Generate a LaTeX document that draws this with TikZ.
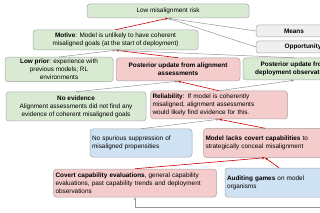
\documentclass[tikz,border=0pt]{standalone}
\usepackage{fontspec}
\setmainfont{Liberation Sans}
\usepackage{xcolor}
\usetikzlibrary{arrows.meta}
\definecolor{boxgreen}{HTML}{D9EAD3}
\definecolor{boxred}{HTML}{F4CCCC}
\definecolor{boxblue}{HTML}{CFE2F3}
\definecolor{boxgray}{HTML}{EFEFEF}
\definecolor{boxline}{HTML}{A6A6A6}
\definecolor{linkgray}{HTML}{959595}
\definecolor{linkred}{HTML}{CC0000}

\begin{document}
\begin{tikzpicture}[x=1pt,y=-1pt,
    box/.style={draw=boxline, line width=0.5pt, rounded corners=3pt, inner sep=2pt,
      font=\fontsize{6.4}{7.9}\selectfont},
    greenbox/.style={box, fill=boxgreen, align=center},
    redbox/.style={box, fill=boxred},
    bluebox/.style={box, fill=boxblue},
    graybox/.style={box, fill=boxgray, align=center},
    graylink/.style={draw=linkgray, line width=0.5pt, -{Stealth[length=3pt,width=2.5pt]}},
    redlink/.style={draw=linkred, line width=0.6pt, -{Stealth[length=3pt,width=2.5pt]}}]
    \useasboundingbox (0,0) rectangle (320,213);
    \clip (0,0) rectangle (320,213);
    % top row
    \node[greenbox, minimum width=162, minimum height=14] (risk) at (168,11) {Low misalignment risk};
    \node[greenbox, minimum width=165, minimum height=20] (motive) at (115.5,40)
      {\textbf{Motive}: Model is unlikely to have coherent\\misaligned goals (at the start of deployment)};
    \node[graybox, minimum width=76, minimum height=12] (means) at (294,31) {\textbf{Means}};
    \node[graybox, minimum width=94, minimum height=12] (opp) at (303,47) {\textbf{Opportunity}};
    % posterior updates
    \node[greenbox, minimum width=108, minimum height=23] (prior) at (59,69.5)
      {\textbf{Low prior}: experience with\\previous models; RL\\environments};
    \node[redbox, align=center, minimum width=124, minimum height=23] (postalign) at (178,69.5)
      {\textbf{Posterior update from alignment}\\\textbf{assessments}};
    \node[greenbox, minimum width=102, minimum height=22] (postdeploy) at (294,69)
      {\textbf{Posterior update from}\\\textbf{deployment observations}};
    % evidence
    \node[greenbox, minimum width=140, minimum height=29] (noevid) at (76,106.5)
      {\textbf{No evidence}\\Alignment assessments did not find any\\evidence of coherent misaligned goals};
    \node[redbox, align=left, text width=133, minimum height=28] (reliab) at (219,105)
      {\textbf{Reliability}: If model is coherently\\misaligned, alignment assessments\\would likely find evidence for this.};
    \node[bluebox, align=left, text width=98, minimum height=28] (nospur) at (141,143)
      {No spurious suppression of\\misaligned propensities};
    \node[redbox, align=left, text width=119, minimum height=29] (lacks) at (265,143)
      {\textbf{Model lacks covert capabilities} to\\strategically conceal misalignment};
    \node[redbox, align=left, text width=159, minimum height=28] (covert) at (135,183)
      {\textbf{Covert capability evaluations}, general capability\\evaluations, past capability trends and deployment\\observations};
    \node[bluebox, align=left, text width=104, minimum height=29] (audit) at (279,182.5)
      {\textbf{Auditing games} on model\\organisms};
    \coordinate (offright) at (330,207);
    % links
    \draw[redlink] (motive.north) -- (risk.south);
    \draw[graylink] (means.west) -- (risk.south);
    \draw[graylink] (opp.west) -- (risk.south);
    \draw[graylink] (prior.north) -- (motive.south);
    \draw[redlink] (postalign.north) -- (motive.south);
    \draw[graylink] (postdeploy.north) -- (motive.south);
    \draw[graylink] (noevid.north) -- (postalign.south);
    \draw[redlink] (reliab.north) -- (postalign.south);
    \draw[graylink] (reliab.north) -- (postdeploy.south);
    \draw[graylink] (nospur.north) -- (reliab.south);
    \draw[redlink] (lacks.north) -- (reliab.south);
    \draw[redlink] (covert.north) -- (lacks.south);
    \draw[redlink] (audit.north) -- (lacks.south);
    \draw[graylink] (offright) -| (covert.south);
\end{tikzpicture}
\end{document}
